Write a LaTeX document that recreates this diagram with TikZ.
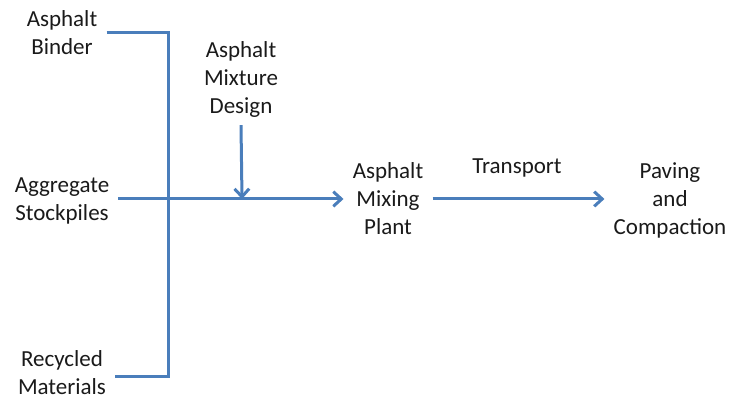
\documentclass[tikz,border=0pt]{standalone}
\usepackage{fontspec}
\setmainfont{Carlito}
\usetikzlibrary{arrows.meta}
\definecolor{lineblue}{HTML}{4A7EBB}
\definecolor{txt}{HTML}{1A1A1A}
\tikzset{
  lbl/.style={align=center, text=txt, inner xsep=6.75pt, inner ysep=0pt, font=\fontsize{17.25}{21}\selectfont},
  conn/.style={draw=lineblue, line width=2.25pt},
  arr/.style={conn, -{Straight Barb[length=6pt,width=11pt,line width=2.25pt]}}
}
\begin{document}
\begin{tikzpicture}[x=0.75pt,y=-0.75pt]
\useasboundingbox (0,0) rectangle (730,398);
\node[lbl] (binder) at (62,33) {Asphalt\\Binder};
\node[lbl] (aggr) at (62,201) {Aggregate\\Stockpiles};
\node[lbl] (recyc) at (62,373) {Recycled\\Materials};
\node[lbl] (design) at (241,79) {Asphalt\\Mixture\\Design};
\node[lbl] (plant) at (388,199) {Asphalt\\Mixing\\Plant};
\node[lbl] (transport) at (517,168) {Transport};
\node[lbl] (paving) at (670,200) {Paving\\and\\Compaction};
\coordinate (vx) at (168,376);
\coordinate (dj) at (242,199);
\draw[conn] (binder.east) -| (vx) -- (recyc.east |- vx);
\draw[arr] (aggr.east |- dj) -- (plant.west |- dj);
\draw[arr] (design.south) ++(0,8) -- (dj);
\draw[arr] (plant.east |- dj) -- (paving.west |- dj);
\end{tikzpicture}
\end{document}
